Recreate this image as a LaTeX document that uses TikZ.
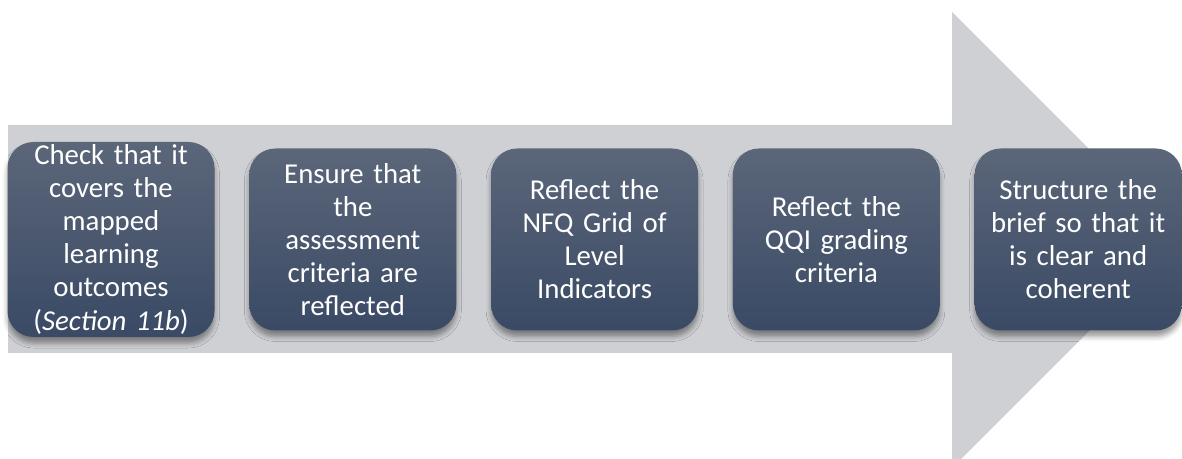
\documentclass[tikz,border=0pt]{standalone}
\usepackage{fontspec}
\setmainfont{Carlito}[WordSpace=0.85]
\usetikzlibrary{positioning, shadows.blur}

\definecolor{arrowgray}{HTML}{CFD0D4}
\definecolor{boxtop}{HTML}{5B6679}
\definecolor{boxbottom}{HTML}{3A4A65}

\begin{document}
\begin{tikzpicture}[x=0.5pt, y=-0.5pt, node distance=17pt,
  stepbox/.style={rectangle, rounded corners=13pt, inner sep=0pt,
    minimum width=103.5pt, minimum height=91pt, text width=98pt, align=center,
    top color=boxtop, bottom color=boxbottom, text=white,
    font=\fontsize{14.4pt}{16.5pt}\selectfont,
    blur shadow={shadow xshift=0pt, shadow yshift=-3pt, shadow blur radius=2.5pt, shadow opacity=40}}]
  \useasboundingbox (0,0) rectangle (1182,459);
  \clip (0,0) rectangle (1182,459);

  % Big arrow behind the steps
  \fill[arrowgray] (8,125) -- (952,125) -- (952,12) -- (1180,240)
    -- (952,468) -- (952,353) -- (8,353) -- cycle;

  % Steps
  \node[stepbox, minimum height=97.5pt] (check) at (111,239.5)
    {Check that it\\covers the\\mapped\\learning\\outcomes\\(\textit{Section 11b})};
  \node[stepbox, right=of check] (ensure)
    {Ensure that\\the\\assessment\\criteria are\\reflected};
  \node[stepbox, right=of ensure] (nfq)
    {Reflect the\\NFQ Grid of\\Level\\Indicators};
  \node[stepbox, right=of nfq] (qqi)
    {Reflect the\\QQI grading\\criteria};
  \node[stepbox, right=of qqi] (brief)
    {Structure the\\brief so that it\\is clear and\\coherent};
\end{tikzpicture}
\end{document}
